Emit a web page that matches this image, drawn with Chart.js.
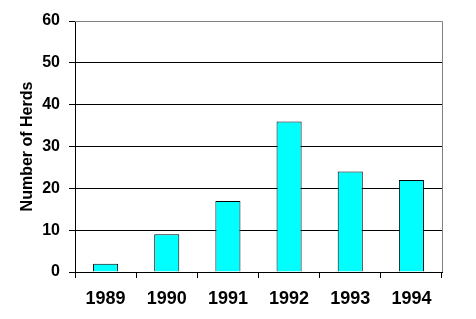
<!DOCTYPE html>
<html>
<head>
<meta charset="utf-8">
<script src="https://cdn.jsdelivr.net/npm/chart.js@4/dist/chart.umd.min.js"></script>
<style>
  html, body { margin: 0; padding: 0; background: #fff; }
  #wrap { width: 476px; height: 319px; }
</style>
</head>
<body>
<div id="wrap"><canvas id="chart"></canvas></div>
<script>
// 数据
const YEARS = ["1989", "1990", "1991", "1992", "1993", "1994"];
const HERDS = [2, 9, 17, 36, 24, 22];
const Y_MIN = 0, Y_MAX = 60, Y_STEP = 10;

const FONT = "'Liberation Sans', Arial, sans-serif";

// 灰色的上边框和右边框
const plotBorder = {
  id: "plotBorder",
  afterDraw(chart) {
    const { ctx, chartArea: a } = chart;
    ctx.save();
    ctx.strokeStyle = "#808080";
    ctx.lineWidth = 1;
    ctx.beginPath();
    ctx.moveTo(a.left, a.top + 0.5);
    ctx.lineTo(a.right + 0.5, a.top + 0.5);
    ctx.lineTo(a.right + 0.5, a.bottom);
    ctx.stroke();
    ctx.restore();
  }
};

new Chart(document.getElementById("chart"), {
  type: "bar",
  data: {
    labels: YEARS,
    datasets: [{
      data: HERDS,
      backgroundColor: "#00ffff",
      borderColor: "#000",
      borderWidth: 1,
      barPercentage: 0.41,
      categoryPercentage: 1,
    }],
  },
  options: {
    responsive: true,
    maintainAspectRatio: false,
    animation: false,
    layout: { padding: { top: 21, right: 34, left: 18, bottom: 0 } },
    plugins: { legend: { display: false }, tooltip: { enabled: false } },
    scales: {
      x: {
        offset: true,
        grid: { offset: true, drawOnChartArea: false, tickLength: 6, tickColor: "#000", tickWidth: 1 },
        border: { color: "#000", width: 1 },
        ticks: { color: "#000", padding: 10, font: { family: FONT, size: 18, weight: "bold" } },
        afterFit(s) { s.height = 47; },
      },
      y: {
        min: Y_MIN, max: Y_MAX,
        grid: {
          color: c => c.tick && c.tick.value === Y_MAX ? "#808080" : "#000",
          tickColor: "#000", tickLength: 6, lineWidth: 1,
        },
        border: { color: "#000", width: 1 },
        ticks: { stepSize: Y_STEP, color: "#000", padding: 9, font: { family: FONT, size: 16, weight: "bold" } },
        title: { display: true, text: "Number of Herds", color: "#000", padding: 0, font: { family: FONT, size: 16, weight: "bold" } },
        afterFit(s) { s.width = 57; },
      },
    },
  },
  plugins: [plotBorder],
});
</script>
</body>
</html>
